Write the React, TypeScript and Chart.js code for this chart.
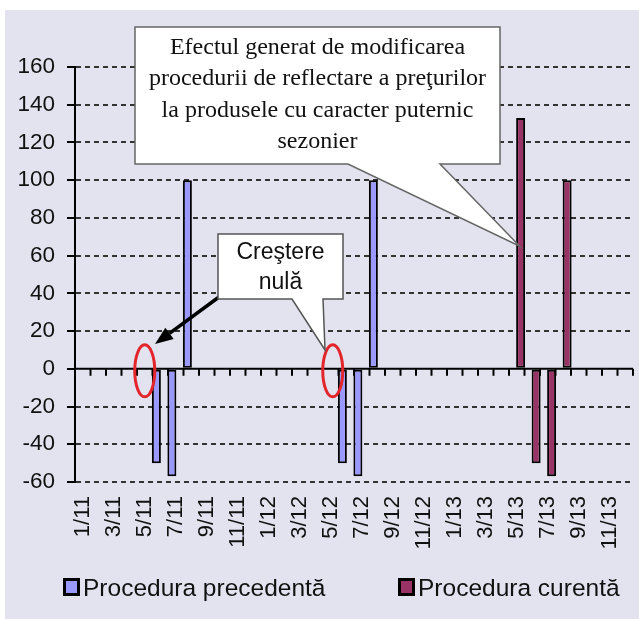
import React, { useEffect, useRef } from 'react';
import { Chart, registerables } from 'chart.js';

Chart.register(...registerables);

const months = [
  '1/11', '2/11', '3/11', '4/11', '5/11', '6/11', '7/11', '8/11', '9/11', '10/11', '11/11', '12/11',
  '1/12', '2/12', '3/12', '4/12', '5/12', '6/12', '7/12', '8/12', '9/12', '10/12', '11/12', '12/12',
  '1/13', '2/13', '3/13', '4/13', '5/13', '6/13', '7/13', '8/13', '9/13', '10/13', '11/13', '12/13',
];

const precedenta: (number | null)[] = [
  null, null, null, null, 0, -50, -57, 100, null, null, null, null,
  null, null, null, null, 0, -50, -57, 100, null, null, null, null,
  null, null, null, null, null, null, null, null, null, null, null, null,
];

const curenta: (number | null)[] = [
  null, null, null, null, null, null, null, null, null, null, null, null,
  null, null, null, null, null, null, null, null, null, null, null, null,
  null, null, null, null, 133, -50, -57, 100, null, null, null, null,
];

const seriesNames = ['Procedura precedentă', 'Procedura curentă'];
const seriesColors = ['#9999ff', '#993366'];

const yMin = -60;
const yMax = 160;
const yStep = 20;

const calloutMain = [
  'Efectul generat de modificarea',
  'procedurii de reflectare a preţurilor',
  'la produsele cu caracter puternic',
  'sezonier',
];
const calloutZero = ['Creştere', 'nulă'];
const zeroMonths = [4, 16];

const SANS = '"Liberation Sans", Arial, sans-serif';
const SERIF = '"Liberation Serif", "Times New Roman", serif';

const decorPlugin = {
  id: 'decor',
  beforeDraw(chart: any) {
    const { ctx, width, height } = chart;
    ctx.save();
    ctx.fillStyle = '#ffffff';
    ctx.fillRect(0, 0, width, height);
    ctx.fillStyle = '#e3e3f0';
    ctx.fillRect(5, 10, width - 5, height - 10);
    ctx.restore();
  },
  beforeDatasetsDraw(chart: any) {
    const { ctx, chartArea, scales } = chart;
    const x = scales.x;
    const y = scales.y;
    const y0 = y.getPixelForValue(0);
    const n = months.length;
    const w = (chartArea.right - chartArea.left) / n;
    ctx.save();
    ctx.strokeStyle = '#000';
    ctx.lineWidth = 2;
    ctx.beginPath();
    ctx.moveTo(chartArea.left, y0);
    ctx.lineTo(chartArea.right, y0);
    for (let i = 0; i <= n; i++) {
      const px = x.getPixelForValue(0) - w / 2 + i * w;
      ctx.moveTo(px, y0);
      ctx.lineTo(px, y0 + 7);
    }
    ctx.stroke();
    ctx.restore();
  },
  afterDraw(chart: any) {
    const { ctx, scales } = chart;
    const x = scales.x;
    const y = scales.y;
    const y0 = y.getPixelForValue(0);
    ctx.save();

    // red ellipses marking zero growth
    ctx.strokeStyle = '#e3262b';
    ctx.lineWidth = 3;
    zeroMonths.forEach((m, k) => {
      const cx = x.getPixelForValue(m) + (k === 0 ? 0 : 2);
      ctx.beginPath();
      ctx.ellipse(cx, y0 + 2, 10, 26, 0, 0, Math.PI * 2);
      ctx.stroke();
    });

    // arrow
    const ax0 = 219, ay0 = 297;
    const ax1 = 155, ay1 = 344;
    const ang = Math.atan2(ay1 - ay0, ax1 - ax0);
    const headLen = 18, headW = 7;
    const bx = ax1 - headLen * Math.cos(ang);
    const by = ay1 - headLen * Math.sin(ang);
    ctx.strokeStyle = '#000';
    ctx.lineWidth = 3.5;
    ctx.beginPath();
    ctx.moveTo(ax0, ay0);
    ctx.lineTo(bx, by);
    ctx.stroke();
    ctx.fillStyle = '#000';
    ctx.beginPath();
    ctx.moveTo(ax1, ay1);
    ctx.lineTo(bx + headW * Math.sin(ang), by - headW * Math.cos(ang));
    ctx.lineTo(bx - headW * Math.sin(ang), by + headW * Math.cos(ang));
    ctx.closePath();
    ctx.fill();

    // big callout
    const tipX = x.getPixelForValue(28) + 3;
    const tipY = y.getPixelForValue(65);
    ctx.fillStyle = '#ffffff';
    ctx.strokeStyle = '#666666';
    ctx.lineWidth = 1.5;
    ctx.beginPath();
    ctx.moveTo(135, 27);
    ctx.lineTo(500, 27);
    ctx.lineTo(500, 164);
    ctx.lineTo(440, 164);
    ctx.lineTo(tipX, tipY);
    ctx.lineTo(348, 164);
    ctx.lineTo(135, 164);
    ctx.closePath();
    ctx.fill();
    ctx.stroke();
    ctx.fillStyle = '#111';
    ctx.font = `24px ${SERIF}`;
    ctx.textAlign = 'center';
    ctx.textBaseline = 'alphabetic';
    calloutMain.forEach((line, i) => {
      ctx.fillText(line, 317.5, 53.5 + i * 31.5);
    });

    // small callout
    ctx.fillStyle = '#ffffff';
    ctx.strokeStyle = '#555555';
    ctx.lineWidth = 1.5;
    ctx.beginPath();
    ctx.moveTo(218, 234);
    ctx.lineTo(343, 234);
    ctx.lineTo(343, 299);
    ctx.lineTo(323, 299);
    ctx.lineTo(325, 350);
    ctx.lineTo(292, 299);
    ctx.lineTo(218, 299);
    ctx.closePath();
    ctx.fill();
    ctx.stroke();
    ctx.fillStyle = '#111';
    ctx.font = `23px ${SANS}`;
    ctx.textAlign = 'center';
    ctx.textBaseline = 'middle';
    calloutZero.forEach((line, i) => {
      ctx.fillText(line, 280.5, 253 + i * 30);
    });

    // legend
    const legendX = [63, 398];
    ctx.font = `24.5px ${SANS}`;
    ctx.textAlign = 'left';
    ctx.textBaseline = 'alphabetic';
    seriesNames.forEach((name, i) => {
      const lx = legendX[i];
      ctx.fillStyle = seriesColors[i];
      ctx.fillRect(lx + 1.5, 579.5, 14, 15);
      ctx.strokeStyle = '#000';
      ctx.lineWidth = 3;
      ctx.strokeRect(lx + 1.5, 579.5, 14, 15);
      ctx.fillStyle = '#111';
      ctx.fillText(name, lx + 20, 596);
    });

    ctx.restore();
  },
};

export default function App() {
  const canvasRef = useRef<HTMLCanvasElement | null>(null);

  useEffect(() => {
    document.body.style.margin = '0';
    const canvas = canvasRef.current;
    if (!canvas) return;
    const chart = new Chart(canvas, {
      type: 'bar',
      data: {
        labels: months,
        datasets: [
          {
            label: seriesNames[0],
            data: precedenta,
            backgroundColor: seriesColors[0],
            borderColor: '#000',
            borderWidth: 2,
            borderSkipped: false,
            categoryPercentage: 1,
            barPercentage: 1.16,
          },
          {
            label: seriesNames[1],
            data: curenta,
            backgroundColor: seriesColors[1],
            borderColor: '#000',
            borderWidth: 2,
            borderSkipped: false,
            categoryPercentage: 1,
            barPercentage: 1.16,
          },
        ],
      },
      options: {
        animation: false,
        responsive: false,
        devicePixelRatio: 1,
        layout: { padding: { left: 0, top: 67, right: 6, bottom: 57 } },
        plugins: {
          legend: { display: false },
          tooltip: { enabled: false },
          title: { display: false },
        },
        scales: {
          x: {
            grid: { display: false },
            border: { display: false },
            ticks: {
              autoSkip: false,
              maxRotation: 90,
              minRotation: 90,
              padding: 6,
              color: '#111',
              font: { family: SANS, size: 22 },
              callback: (_v: any, i: number) => (i % 2 === 0 ? months[i] : ''),
            },
            afterFit: (scale: any) => {
              scale.height = 80;
              scale.paddingLeft = 0;
              scale.paddingRight = 0;
            },
          },
          y: {
            min: yMin,
            max: yMax,
            ticks: {
              stepSize: yStep,
              padding: 12,
              color: '#111',
              font: { family: SANS, size: 22.5 },
            },
            grid: {
              color: (c: any) => (c.tick && c.tick.value === 0 ? 'rgba(0,0,0,0)' : '#333'),
              lineWidth: 2,
              tickLength: 8,
              tickColor: '#000',
              tickWidth: 2,
            },
            border: { display: true, color: '#000', width: 2, dash: [5, 4] },
            afterFit: (scale: any) => {
              scale.width = 75;
              scale.paddingTop = 0;
              scale.paddingBottom = 0;
            },
          },
        },
      },
      plugins: [decorPlugin],
    });
    return () => chart.destroy();
  }, []);

  return (
    <canvas
      ref={canvasRef}
      width={639}
      height={619}
      style={{ display: 'block', width: 639, height: 619 }}
    />
  );
}
